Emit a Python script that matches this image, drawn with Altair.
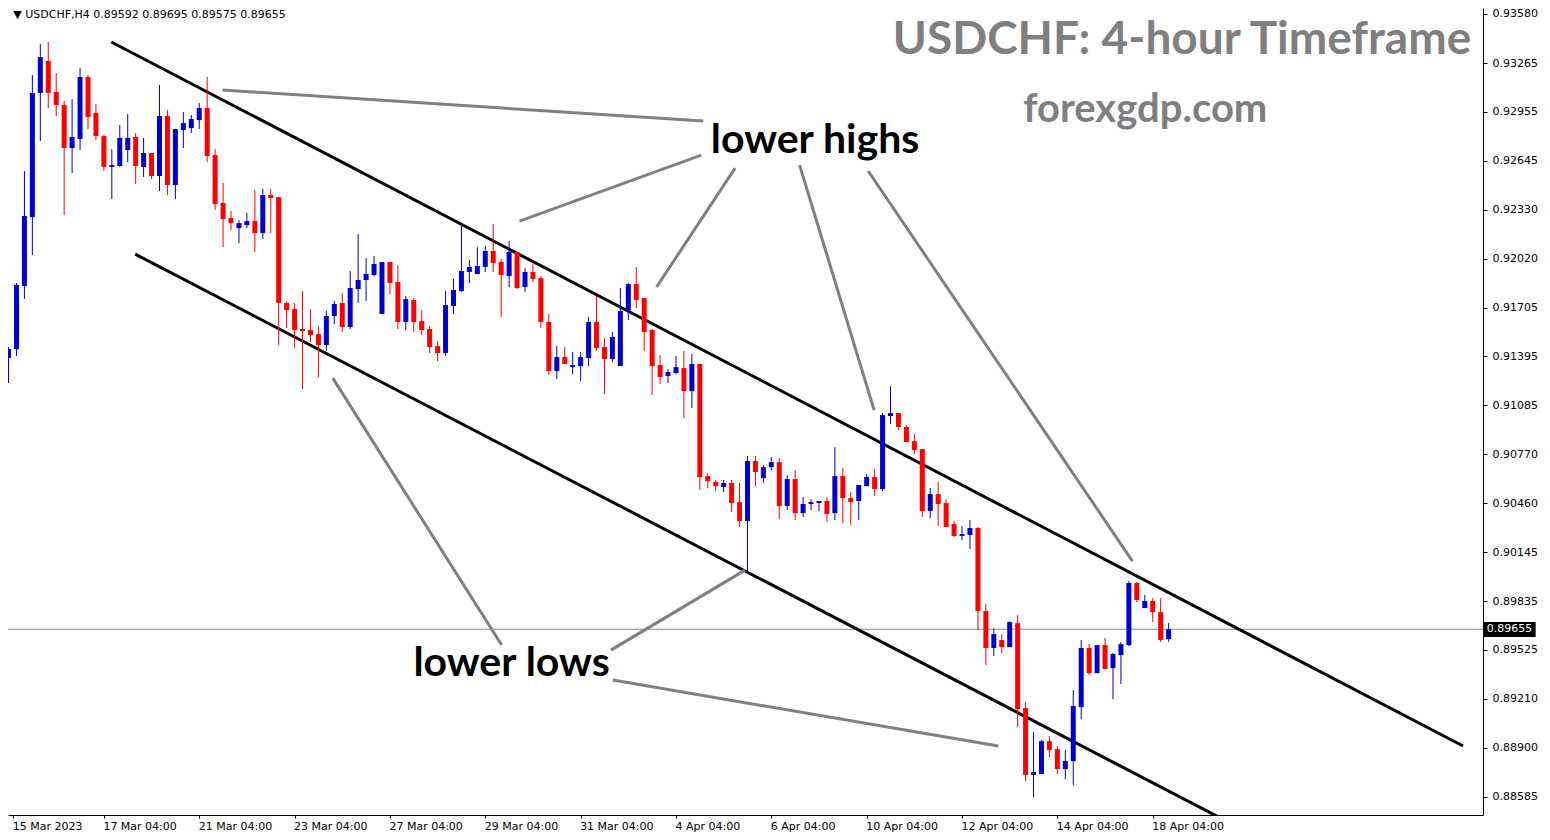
import altair as alt
import pandas as pd

# ---------------- data (USDCHF H4 candles) ----------------
opens = [0.91385, 0.91442, 0.91844, 0.92284, 0.93076, 0.93280, 0.93082, 0.92999, 0.92725, 0.92782,
         0.93178, 0.92948, 0.92801, 0.92604, 0.92610, 0.92712, 0.92795, 0.92604, 0.92693, 0.92546,
         0.92929, 0.92489, 0.92840, 0.92852, 0.92903, 0.92980, 0.92680, 0.92374, 0.92278, 0.92214,
         0.92233, 0.92259, 0.92182, 0.92425, 0.92412, 0.91736, 0.91698, 0.91570, 0.91564, 0.91538,
         0.91468, 0.91653, 0.91736, 0.91583, 0.91825, 0.91883, 0.91915, 0.91666, 0.91998, 0.91870,
         0.91615, 0.91755, 0.91621, 0.91570, 0.91461, 0.91417, 0.91717, 0.91812, 0.91934, 0.91921,
         0.91966, 0.92068, 0.91998, 0.91908, 0.92061, 0.91838, 0.91934, 0.91895, 0.91615, 0.91302,
         0.91391, 0.91327, 0.91334, 0.91385, 0.91615, 0.91455, 0.91379, 0.91334, 0.91685, 0.91857,
         0.91768, 0.91564, 0.91340, 0.91270, 0.91289, 0.91321, 0.91174, 0.91347, 0.90632, 0.90594,
         0.90562, 0.90588, 0.90466, 0.90345, 0.90728, 0.90619, 0.90689, 0.90721, 0.90441, 0.90613,
         0.90396, 0.90454, 0.90460, 0.90473, 0.90396, 0.90632, 0.90492, 0.90473, 0.90568, 0.90626,
         0.90549, 0.91015, 0.91034, 0.90945, 0.90855, 0.90804, 0.90409, 0.90517, 0.90460, 0.90326,
         0.90250, 0.90256, 0.90301, 0.89771, 0.89535, 0.89586, 0.89541, 0.89694, 0.89152, 0.88725,
         0.88731, 0.88941, 0.88890, 0.88763, 0.88814, 0.89158, 0.89535, 0.89375, 0.89554, 0.89407,
         0.89490, 0.89554, 0.89950, 0.89790, 0.89835, 0.89764, 0.89592]
highs = [0.91455, 0.91864, 0.92578, 0.93191, 0.93388, 0.93401, 0.93203, 0.93025, 0.93037, 0.93235,
         0.93191, 0.93005, 0.92808, 0.92718, 0.92872, 0.92942, 0.92820, 0.92789, 0.92693, 0.93127,
         0.92967, 0.92846, 0.92954, 0.92935, 0.93012, 0.93178, 0.92718, 0.92501, 0.92323, 0.92265,
         0.92310, 0.92457, 0.92463, 0.92463, 0.92412, 0.91749, 0.91736, 0.91812, 0.91698, 0.91589,
         0.91685, 0.91749, 0.91800, 0.91940, 0.92176, 0.92023, 0.92036, 0.91998, 0.91998, 0.91978,
         0.91781, 0.91768, 0.91691, 0.91589, 0.91493, 0.91812, 0.91889, 0.92240, 0.92010, 0.92093,
         0.92100, 0.92240, 0.92017, 0.92131, 0.92061, 0.91959, 0.91985, 0.91908, 0.91666, 0.91461,
         0.91455, 0.91423, 0.91423, 0.91647, 0.91781, 0.91512, 0.91551, 0.91832, 0.91864, 0.91966,
         0.91768, 0.91570, 0.91404, 0.91315, 0.91398, 0.91430, 0.91411, 0.91347, 0.90651, 0.90607,
         0.90607, 0.90607, 0.90588, 0.90760, 0.90760, 0.90702, 0.90753, 0.90747, 0.90638, 0.90670,
         0.90498, 0.90485, 0.90473, 0.90498, 0.90817, 0.90683, 0.90530, 0.90575, 0.90645, 0.90677,
         0.91034, 0.91206, 0.91034, 0.90957, 0.90900, 0.90804, 0.90556, 0.90594, 0.90485, 0.90345,
         0.90313, 0.90351, 0.90307, 0.89816, 0.89662, 0.89624, 0.89707, 0.89745, 0.89191, 0.88999,
         0.88948, 0.88973, 0.88909, 0.88884, 0.89267, 0.89586, 0.89560, 0.89554, 0.89599, 0.89503,
         0.89573, 0.89962, 0.89956, 0.89873, 0.89854, 0.89854, 0.89695]
lows = [0.91226, 0.91398, 0.91762, 0.92042, 0.92769, 0.92980, 0.92929, 0.92297, 0.92565, 0.92712,
        0.92846, 0.92776, 0.92578, 0.92399, 0.92604, 0.92635, 0.92495, 0.92540, 0.92527, 0.92450,
        0.92425, 0.92399, 0.92725, 0.92820, 0.92846, 0.92635, 0.92329, 0.92093, 0.92202, 0.92119,
        0.92214, 0.92061, 0.92144, 0.92182, 0.91468, 0.91576, 0.91449, 0.91187, 0.91487, 0.91264,
        0.91430, 0.91602, 0.91551, 0.91570, 0.91736, 0.91749, 0.91908, 0.91666, 0.91793, 0.91570,
        0.91564, 0.91551, 0.91532, 0.91417, 0.91366, 0.91398, 0.91666, 0.91806, 0.91864, 0.91921,
        0.91934, 0.91934, 0.91647, 0.91838, 0.91825, 0.91806, 0.91870, 0.91576, 0.91277, 0.91251,
        0.91347, 0.91283, 0.91238, 0.91334, 0.91430, 0.91155, 0.91359, 0.91334, 0.91627, 0.91704,
        0.91430, 0.91149, 0.91219, 0.91226, 0.91283, 0.91002, 0.91066, 0.90543, 0.90556, 0.90536,
        0.90530, 0.90402, 0.90307, 0.90020, 0.90568, 0.90588, 0.90670, 0.90358, 0.90415, 0.90351,
        0.90371, 0.90415, 0.90409, 0.90339, 0.90351, 0.90332, 0.90320, 0.90351, 0.90568, 0.90505,
        0.90536, 0.90964, 0.90926, 0.90849, 0.90773, 0.90371, 0.90364, 0.90313, 0.90307, 0.90243,
        0.90224, 0.90166, 0.89650, 0.89426, 0.89484, 0.89503, 0.89541, 0.89031, 0.88686, 0.88584,
        0.88731, 0.88839, 0.88731, 0.88699, 0.88661, 0.89082, 0.89363, 0.89375, 0.89401, 0.89209,
        0.89305, 0.89547, 0.89828, 0.89790, 0.89701, 0.89573, 0.89575]
closes = [0.91442, 0.91851, 0.92291, 0.93076, 0.93305, 0.93076, 0.92999, 0.92725, 0.92795, 0.93178,
          0.92922, 0.92801, 0.92604, 0.92616, 0.92789, 0.92789, 0.92610, 0.92693, 0.92546, 0.92929,
          0.92489, 0.92846, 0.92884, 0.92910, 0.92980, 0.92674, 0.92368, 0.92272, 0.92246, 0.92246,
          0.92259, 0.92182, 0.92425, 0.92406, 0.91736, 0.91691, 0.91564, 0.91557, 0.91532, 0.91468,
          0.91653, 0.91730, 0.91583, 0.91832, 0.91883, 0.91921, 0.91985, 0.91998, 0.91864, 0.91615,
          0.91761, 0.91615, 0.91564, 0.91455, 0.91417, 0.91723, 0.91819, 0.91940, 0.91966, 0.91972,
          0.92068, 0.91991, 0.91915, 0.92061, 0.91832, 0.91934, 0.91889, 0.91615, 0.91302, 0.91391,
          0.91347, 0.91340, 0.91391, 0.91615, 0.91449, 0.91379, 0.91519, 0.91685, 0.91857, 0.91755,
          0.91551, 0.91334, 0.91264, 0.91296, 0.91327, 0.91174, 0.91347, 0.90626, 0.90600, 0.90568,
          0.90588, 0.90460, 0.90345, 0.90728, 0.90658, 0.90689, 0.90721, 0.90441, 0.90613, 0.90396,
          0.90454, 0.90466, 0.90473, 0.90390, 0.90632, 0.90492, 0.90466, 0.90575, 0.90626, 0.90549,
          0.91021, 0.91034, 0.90945, 0.90849, 0.90798, 0.90409, 0.90517, 0.90454, 0.90307, 0.90250,
          0.90262, 0.90301, 0.89771, 0.89535, 0.89624, 0.89541, 0.89701, 0.89146, 0.88725, 0.88744,
          0.88941, 0.88884, 0.88763, 0.88814, 0.89165, 0.89535, 0.89375, 0.89554, 0.89401, 0.89497,
          0.89560, 0.89950, 0.89841, 0.89835, 0.89764, 0.89586, 0.89655]

price_ticks = [0.93580, 0.93265, 0.92955, 0.92645, 0.92330, 0.92020, 0.91705, 0.91395, 0.91085,
               0.90770, 0.90460, 0.90145, 0.89835, 0.89525, 0.89210, 0.88900, 0.88585]
time_labels = ["15 Mar 2023", "17 Mar 04:00", "21 Mar 04:00", "23 Mar 04:00", "27 Mar 04:00",
               "29 Mar 04:00", "31 Mar 04:00", "4 Apr 04:00", "6 Apr 04:00", "10 Apr 04:00",
               "12 Apr 04:00", "14 Apr 04:00", "18 Apr 04:00"]
time_label_bars = [0.6, 12, 24, 36, 48, 60, 72, 84, 96, 108, 120, 132, 144]

current_price = 0.89655

# channel lines (bar index, price)
channel_x1 = [12.94, 15.94]
channel_y1 = [0.93401, 0.92048]
channel_x2 = [183.06, 160.0]
channel_y2 = [0.88910, 0.88254]

# grey pointer lines (bar index, price)
pointer_x1 = [26.94, 64.31, 81.56, 99.56, 108.19, 40.81, 75.81, 76.06]
pointer_y1 = [0.93095, 0.92259, 0.91838, 0.92616, 0.92578, 0.91257, 0.89522, 0.89331]
pointer_x2 = [87.44, 87.19, 91.44, 108.94, 141.44, 62.06, 92.69, 124.56]
pointer_y2 = [0.92897, 0.92680, 0.92597, 0.91053, 0.90090, 0.89554, 0.90032, 0.88910]

# text annotations
note_text = ["USDCHF: 4-hour Timeframe", "forexgdp.com", "lower highs", "lower lows"]
note_x = [147.69, 143.06, 101.5, 63.31]
note_y = [0.93325, 0.92891, 0.92693, 0.89356]
note_size = [46, 40, 41, 41]
note_color = ["#7f7f7f", "#7f7f7f", "#000000", "#000000"]

header_text = "\u25BC USDCHF,H4  0.89592 0.89695 0.89575 0.89655"

# ---------------- chart ----------------
W, H = 1475, 807
n = len(opens)
df = pd.DataFrame({"bar": list(range(n)), "open": opens, "high": highs,
                   "low": lows, "close": closes})
df["dir"] = ["up" if c >= o else "down" for o, c in zip(opens, closes)]

xs = alt.Scale(domain=[0.5625, 184.9375], nice=False, zero=False)
ys = alt.Scale(domain=[0.88470, 0.93618], nice=False, zero=False)
col = alt.Color("dir:N", scale=alt.Scale(domain=["up", "down"], range=["#0000CD", "#FF0000"]),
                legend=None)

label_arr = "[" + ",".join("'%s'" % s for s in time_labels) + "]"
x_axis = alt.Axis(values=time_label_bars, labelExpr=label_arr + "[round(datum.value/12)]",
                  orient="bottom", title=None, grid=False, labelAlign="left", labelOffset=-1,
                  labelFont="DejaVu Sans", labelFontSize=11, labelColor="#000000",
                  tickSize=3, tickColor="#000000", domainColor="#000000", labelPadding=2,
                  labelBound=False, labelOverlap=False)
y_axis = alt.Axis(values=price_ticks, format=".5f", orient="right", title=None, grid=False,
                  labelFont="DejaVu Sans", labelFontSize=11, labelColor="#000000",
                  tickSize=4, tickColor="#000000", domainColor="#000000", labelPadding=5,
                  labelOverlap=False)

base = alt.Chart(df)
wicks = base.mark_rule(strokeWidth=1).encode(
    x=alt.X("bar:Q", scale=xs, axis=x_axis),
    y=alt.Y("low:Q", scale=ys, axis=y_axis),
    y2="high:Q",
    color=col)
bodies = base.mark_bar(size=5).encode(
    x=alt.X("bar:Q", scale=xs), y=alt.Y("open:Q", scale=ys), y2="close:Q", color=col)

price_df = pd.DataFrame({"p": [current_price]})
price_line = alt.Chart(price_df).mark_rule(color="#8c8c8c", strokeWidth=1).encode(
    y=alt.Y("p:Q", scale=ys))

box_df = pd.DataFrame({"x1": [185.56], "x2": [192.19], "y1": [0.89701], "y2": [0.89605],
                       "xm": [188.9], "ym": [current_price], "t": ["%.5f" % current_price]})
price_box = alt.Chart(box_df).mark_rect(color="#000000", clip=False).encode(
    x=alt.X("x1:Q", scale=xs), x2="x2:Q", y=alt.Y("y1:Q", scale=ys), y2="y2:Q")
price_txt = alt.Chart(box_df).mark_text(color="#ffffff", font="DejaVu Sans", fontSize=11,
                                        align="center", baseline="middle", clip=False).encode(
    x=alt.X("xm:Q", scale=xs), y=alt.Y("ym:Q", scale=ys), text="t:N")

ch_df = pd.DataFrame({"x1": channel_x1, "y1": channel_y1, "x2": channel_x2, "y2": channel_y2})
channels = alt.Chart(ch_df).mark_rule(color="#000000", strokeWidth=3, clip=True).encode(
    x=alt.X("x1:Q", scale=xs), x2="x2:Q", y=alt.Y("y1:Q", scale=ys), y2="y2:Q")

pt_df = pd.DataFrame({"x1": pointer_x1, "y1": pointer_y1, "x2": pointer_x2, "y2": pointer_y2})
pointers = alt.Chart(pt_df).mark_rule(color="#808080", strokeWidth=3, clip=True).encode(
    x=alt.X("x1:Q", scale=xs), x2="x2:Q", y=alt.Y("y1:Q", scale=ys), y2="y2:Q")

nt_df = pd.DataFrame({"t": note_text, "x": note_x, "y": note_y, "s": note_size, "c": note_color})
notes = alt.Chart(nt_df).mark_text(font="Lato", fontWeight="bold", align="center",
                                   baseline="alphabetic").encode(
    x=alt.X("x:Q", scale=xs), y=alt.Y("y:Q", scale=ys), text="t:N",
    size=alt.Size("s:Q", scale=None), color=alt.Color("c:N", scale=None))

hd_df = pd.DataFrame({"t": [header_text], "x": [0.6], "y": [0.93576]})
header = alt.Chart(hd_df).mark_text(font="DejaVu Sans", fontSize=11, align="left",
                                    baseline="middle", color="#000000").encode(
    x=alt.X("x:Q", scale=xs), y=alt.Y("y:Q", scale=ys), text="t:N")

chart = alt.layer(price_line, channels, pointers, wicks, bodies, price_box, price_txt,
                  notes, header).properties(
    width=W, height=H,
    autosize=alt.AutoSizeParams(type="none"),
    padding={"left": 0, "top": 0, "right": 59, "bottom": 17},
    background="#ffffff",
).configure_view(stroke=None)

chart.save("out.html", embed_options={"renderer": "svg", "actions": False})
